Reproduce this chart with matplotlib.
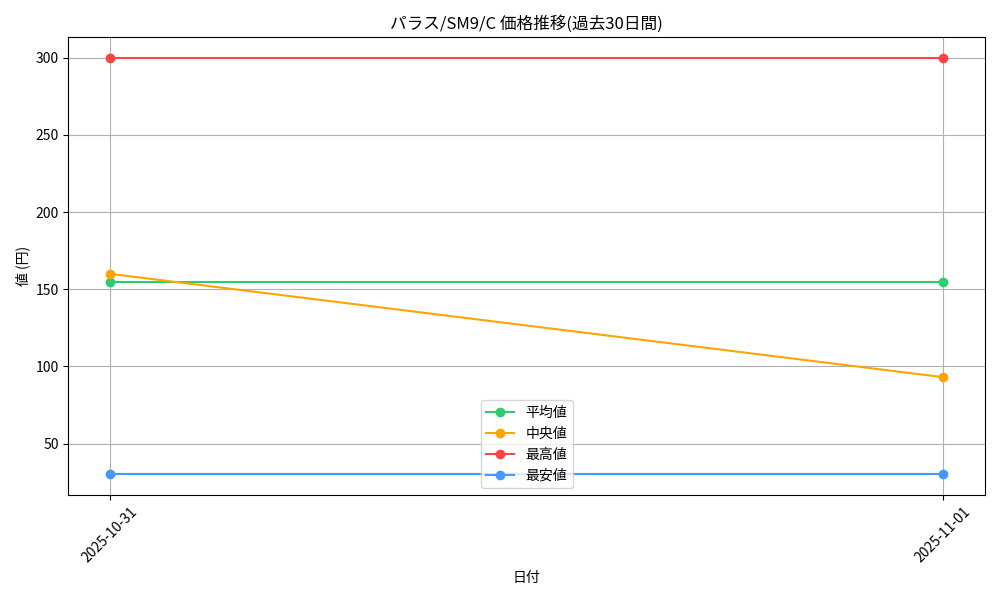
import matplotlib
matplotlib.use("Agg")
import matplotlib.pyplot as plt

plt.rcParams["font.family"] = ["Noto Sans CJK JP", "DejaVu Sans"]

dates = ["2025-10-31", "2025-11-01"]
avg_prices = [155, 155]
median_prices = [160, 93]
max_prices = [300, 300]
min_prices = [30, 30]

fig, ax = plt.subplots(figsize=(10, 6), dpi=100)

ax.plot(dates, avg_prices, marker="o", color="#2ecc71", label="平均値")
ax.plot(dates, median_prices, marker="o", color="#ffa500", label="中央値")
ax.plot(dates, max_prices, marker="o", color="#ff4444", label="最高値")
ax.plot(dates, min_prices, marker="o", color="#4499ff", label="最安値")

ax.set_title("パラス/SM9/C 価格推移(過去30日間)")
ax.set_xlabel("日付")
ax.set_ylabel("値 (円)")
ax.grid(True)
ax.legend()
plt.xticks(rotation=45)
plt.tight_layout()
plt.savefig("out.png")
